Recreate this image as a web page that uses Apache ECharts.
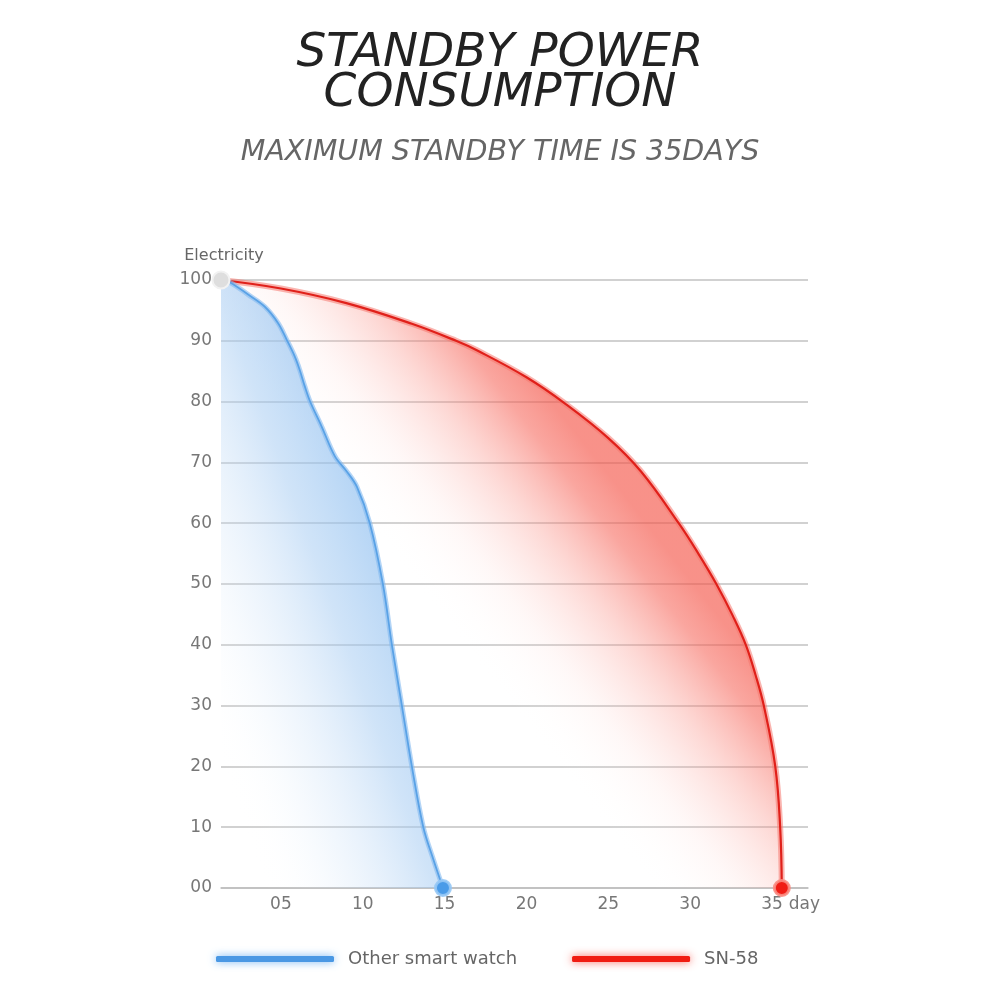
<!DOCTYPE html>
<html>
<head>
<meta charset="utf-8">
<script src="https://cdn.jsdelivr.net/npm/echarts@6/dist/echarts.min.js"></script>
<style>
  html, body { margin: 0; padding: 0; background: #fff; }
  #chart { width: 1000px; height: 1000px; }
</style>
</head>
<body>
<div id="chart"></div>
<script>
// 数据
const otherDays = [1.34, 1.9, 3.0, 4.02, 4.83, 5.35, 5.85, 6.15, 6.46, 6.77, 7.49, 8.3, 9.0, 9.64, 10.43, 11.23, 11.78, 12.39, 13.0, 13.7, 14.3, 14.9];
const otherPower = [100, 99.6, 97.6, 95.6, 92.9, 90.2, 87.4, 85.2, 82.5, 80.1, 75.9, 71.0, 68.6, 66, 60, 50, 40, 30, 20, 10, 4.8, 0];
const snDays = [1.34, 5, 9, 13, 15.7, 17, 20, 22.4, 25, 27, 29.3, 30.5, 31.6, 32.6, 33.4, 34, 34.5, 35.2, 35.5, 35.6];
const snPower = [100, 98.6, 96.2, 92.8, 90, 88.4, 84, 79.6, 74, 68.5, 60, 55, 50, 44.8, 40, 35, 30, 20, 10, 0];
const xTicks = [5, 10, 15, 20, 25, 30, 35];
const seriesNames = ['Other smart watch', 'SN-58'];

const font = 'DejaVu Sans';

function pairs(xs, ys) {
    return xs.map(function (x, i) { return [x, ys[i]]; });
}

const otherData = pairs(otherDays, otherPower);
const snData = pairs(snDays, snPower);

// 端点
const otherLine = otherData.map(function (p, i) {
    if (i === 0) {
        return { value: p, symbol: 'circle', symbolSize: 17,
            itemStyle: { color: '#dedede', borderColor: '#f2f2f2', borderWidth: 2 } };
    }
    if (i === otherData.length - 1) {
        return { value: p, symbol: 'circle', symbolSize: 15,
            itemStyle: { color: '#4a9be8', borderColor: 'rgba(150,200,245,0.9)', borderWidth: 3 } };
    }
    return p;
});
const snLine = snData.map(function (p, i) {
    if (i === snData.length - 1) {
        return { value: p, symbol: 'circle', symbolSize: 15,
            itemStyle: { color: '#f01c14', borderColor: 'rgba(250,140,130,0.9)', borderWidth: 3 } };
    }
    return p;
});

const chart = echarts.init(document.getElementById('chart'));

const option = {
    backgroundColor: '#fff',
    animation: false,
    title: [
        {
            text: 'STANDBY POWER\nCONSUMPTION',
            left: 'center',
            top: 29,
            textStyle: {
                fontFamily: font, fontStyle: 'italic', fontWeight: 'normal',
                fontSize: 47, lineHeight: 40, color: '#222'
            }
        },
        {
            text: 'MAXIMUM STANDBY TIME IS 35DAYS',
            left: 'center',
            top: 133,
            textStyle: {
                fontFamily: font, fontStyle: 'italic', fontWeight: 'normal',
                fontSize: 28.5, color: '#666'
            }
        }
    ],
    legend: {
        left: 216,
        top: 950,
        padding: 0,
        icon: 'roundRect',
        itemWidth: 118,
        itemHeight: 6,
        itemGap: 55,
        textStyle: { fontFamily: font, fontSize: 18, color: '#666', padding: [0, 0, 0, 9] },
        data: [
            { name: seriesNames[0], itemStyle: { color: '#4a98e4', shadowBlur: 8, shadowColor: 'rgba(80,160,240,0.8)' } },
            { name: seriesNames[1], itemStyle: { color: '#f01c12', shadowBlur: 8, shadowColor: 'rgba(250,60,50,0.8)' } }
        ]
    },
    grid: { left: 221, right: 192, top: 280, bottom: 112 },
    xAxis: {
        type: 'value',
        min: 1.34,
        max: 37.2,
        name: 'day',
        nameLocation: 'end',
        nameGap: -21,
        nameTextStyle: { fontFamily: font, fontSize: 17, color: '#777', verticalAlign: 'top', padding: [8, 0, 0, 0] },
        axisLine: { show: true, lineStyle: { color: '#bdbdbd', width: 1.5 } },
        axisTick: { show: false },
        splitLine: { show: false },
        axisLabel: {
            customValues: xTicks,
            margin: 8,
            fontFamily: font, fontSize: 17, color: '#777',
            formatter: function (v) { return v < 10 ? '0' + v : String(v); }
        }
    },
    yAxis: {
        type: 'value',
        min: 0,
        max: 100,
        interval: 10,
        name: 'Electricity',
        nameLocation: 'end',
        nameGap: 16,
        nameTextStyle: { fontFamily: font, fontSize: 16, color: '#666', align: 'center', padding: [0, 0, 0, 6] },
        axisLine: { show: false },
        axisTick: { show: false },
        splitLine: { show: true, lineStyle: { color: '#c2c2c2', width: 1.5 } },
        axisLabel: {
            margin: 9,
            fontFamily: font, fontSize: 17, color: '#777',
            formatter: function (v) { return v === 0 ? '00' : String(v); }
        }
    },
    series: [
        {
            name: 'SN-58 glow',
            type: 'line',
            data: snData,
            smooth: 0.4,
            symbol: 'none',
            silent: true,
            clip: false,
            z: 2,
            lineStyle: { width: 6, color: 'rgba(245,120,112,0.55)' },
            areaStyle: {
                // 渐变方向沿曲线外法线
                color: new echarts.graphic.LinearGradient(0.478, 0.658, 0.788, 0.435, [
                    { offset: 0, color: 'rgba(255,255,255,0)' },
                    { offset: 0.3, color: 'rgba(253,205,200,0.2)' },
                    { offset: 0.6, color: 'rgba(250,145,135,0.5)' },
                    { offset: 0.85, color: 'rgba(246,100,88,0.82)' },
                    { offset: 1, color: 'rgba(244,85,72,0.92)' }
                ])
            }
        },
        {
            name: seriesNames[1],
            type: 'line',
            data: snLine,
            smooth: 0.4,
            symbol: 'none',
            clip: false,
            z: 3,
            color: '#f01c12',
            lineStyle: { width: 2.2, color: '#e0201a' }
        },
        {
            name: 'Other glow',
            type: 'line',
            data: otherData,
            smooth: 0.35,
            symbol: 'none',
            silent: true,
            clip: false,
            z: 4,
            lineStyle: { width: 5, color: 'rgba(130,185,240,0.6)' },
            areaStyle: {
                color: new echarts.graphic.LinearGradient(0.169, 0.978, 1.101, 0.855, [
                    { offset: 0, color: 'rgba(255,255,255,0)' },
                    { offset: 0.09, color: 'rgba(240,247,254,0.05)' },
                    { offset: 0.36, color: 'rgba(205,226,248,0.35)' },
                    { offset: 0.73, color: 'rgba(165,203,242,0.75)' },
                    { offset: 1, color: 'rgba(145,192,240,0.92)' }
                ])
            }
        },
        {
            name: seriesNames[0],
            type: 'line',
            data: otherLine,
            smooth: 0.35,
            symbol: 'none',
            clip: false,
            z: 5,
            color: '#4a98e4',
            lineStyle: { width: 1.8, color: '#5aa2e6' }
        }
    ]
};

chart.setOption(option);
</script>
</body>
</html>
